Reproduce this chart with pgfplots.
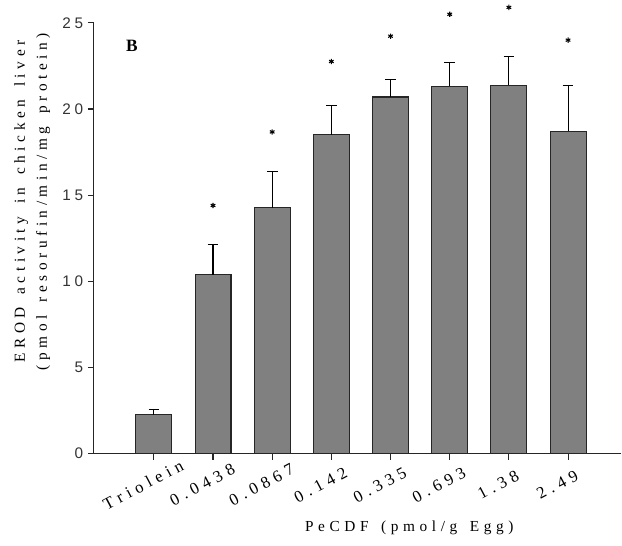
\documentclass[border=0pt]{standalone}
\usepackage{fontspec}
\setmainfont{Liberation Serif}
\newfontfamily\tickfont[LetterSpace=25]{Liberation Sans}
\newfontfamily\ticklabelserif[LetterSpace=30]{Liberation Serif}
\newfontfamily\labelserif[LetterSpace=30,WordSpace=1.5]{Liberation Serif}
\usepackage{pgfplots}
\pgfplotsset{compat=1.18}
\definecolor{bargray}{HTML}{808080}
\definecolor{edgegray}{HTML}{262626}

\begin{document}
\begin{tikzpicture}
  \begin{axis}[
    scale only axis,
    width=396pt, height=323.3pt,
    xmin=-1.013, xmax=7.9,
    ymin=0, ymax=25,
    axis x line*=bottom,
    axis y line*=left,
    axis line style={edgegray, line width=0.8pt},
    clip=false,
    ytick={0,5,10,15,20,25},
    xtick={0,1,2,3,4,5,6,7},
    xticklabels={Triolein,0.0438,0.0867,0.142,0.335,0.693,1.38,2.49},
    tick align=outside,
    major tick length=4.5pt,
    tick style={edgegray, line width=0.8pt},
    /pgf/number format/assume math mode=true,
    yticklabel style={font=\tickfont\fontsize{11.5}{14}\selectfont, color=black!80},
    xticklabel style={font=\ticklabelserif\fontsize{12.5}{14}\selectfont, rotate=28, anchor=center, xshift=-16pt, yshift=-13pt},
    ylabel={EROD activity in chicken liver\\(pmol resorufin/min/mg protein)},
    ylabel style={font=\labelserif\fontsize{11.5}{16.5}\selectfont, align=center, at={(axis description cs:-0.117,0.585)}, anchor=center},
    xlabel={PeCDF (pmol/g Egg)},
    xlabel style={font=\labelserif\fontsize{11.5}{14}\selectfont, at={(axis description cs:0.598,-0.172)}, anchor=center},
  ]
    \addplot[ybar, bar width=27pt, fill=bargray, draw=edgegray, line width=0.8pt,
      error bars/.cd, y dir=plus, y explicit,
      error bar style={black, line width=0.8pt},
      error mark options={rotate=90, mark size=4pt, black, line width=0.8pt}]
      coordinates {
        (0,2.26) +- (0,0.31)
        (1,10.38) +- (0,1.75)
        (2,14.26) +- (0,2.09)
        (3,18.51) +- (0,1.72)
        (4,20.70) +- (0,1.00)
        (5,21.33) +- (0,1.39)
        (6,21.39) +- (0,1.66)
        (7,18.71) +- (0,2.68)
      };
    \addplot[only marks, mark=asterisk, mark size=2pt, black, line width=0.8pt]
      coordinates {
        (1,14.4) (2,18.67) (3,22.76) (4,24.23) (5,25.5) (6,25.9) (7,24.0)
      };
    \node[font=\bfseries\fontsize{13}{15}\selectfont] at (axis cs:-0.37,23.65) {B};
  \end{axis}
  \pgfresetboundingbox
  \path[use as bounding box] (-70.5pt,-69pt) rectangle (396.5pt,340.5pt);
\end{tikzpicture}
\end{document}
